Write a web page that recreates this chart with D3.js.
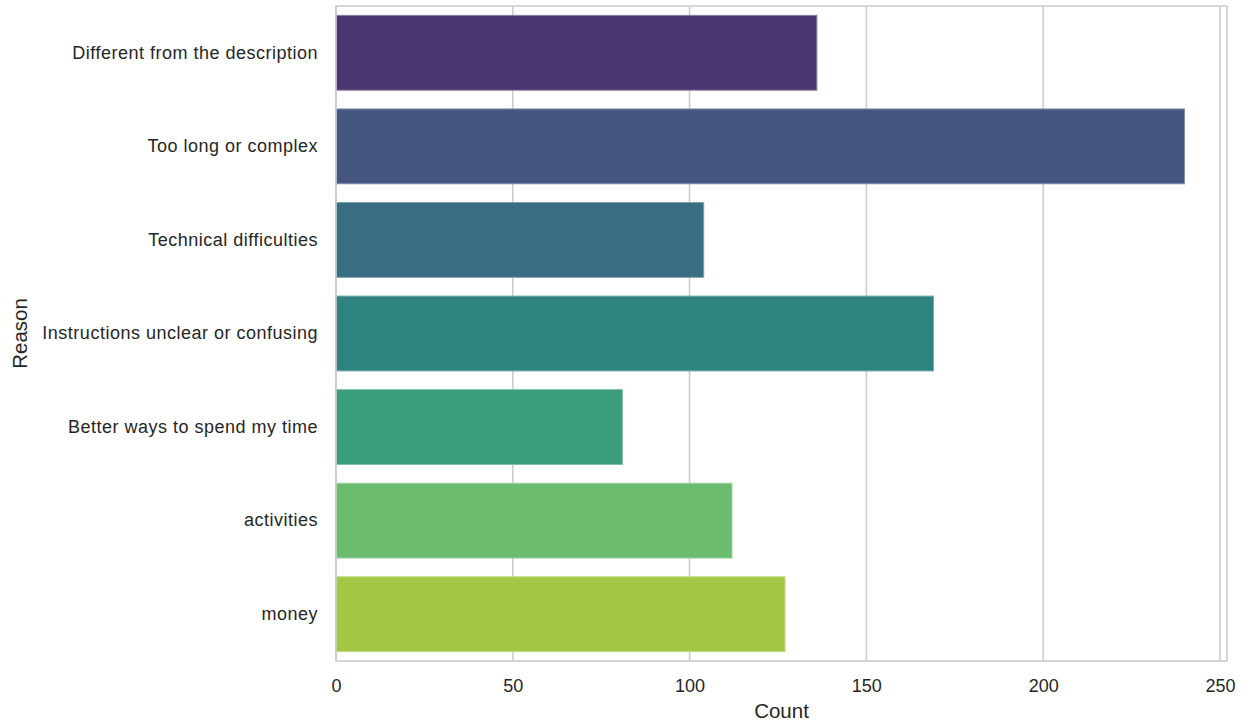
<!DOCTYPE html>
<html>
<head>
<meta charset="utf-8">
<script src="https://cdn.jsdelivr.net/npm/d3@7"></script>
<style>
  html, body { margin: 0; padding: 0; background: #fff; }
  svg { display: block; font-family: Arial, "Liberation Sans", Helvetica, sans-serif; }
</style>
</head>
<body>
<svg id="chart" width="1246" height="723"></svg>
<script>
// Reasons for dropping out, and how often each was given
const reasons = [
  "Different from the description",
  "Too long or complex",
  "Technical difficulties",
  "Instructions unclear or confusing",
  "Better ways to spend my time",
  "activities",
  "money"
];
const counts = [136, 240, 104, 169, 81, 112, 127];
const xTicks = [0, 50, 100, 150, 200, 250];

const W = 1246, H = 723;
const margin = { top: 6, right: 19, bottom: 62, left: 336 };
const innerW = W - margin.left - margin.right;
const innerH = H - margin.top - margin.bottom;

const svg = d3.select("#chart");
const g = svg.append("g").attr("transform", `translate(${margin.left},${margin.top})`);

const x = d3.scaleLinear().domain([0, d3.max(counts) * 1.05]).range([0, innerW]);
const y = d3.scaleBand().domain(reasons).range([0, innerH]).paddingInner(0.2).paddingOuter(0.1);

// viridis palette, sampled away from the ends and slightly desaturated
const colors = reasons.map((_, i) => {
  const c = d3.hsl(d3.interpolateViridis((i + 1) / (reasons.length + 1)));
  c.s *= 0.75;
  return c.formatHex();
});

// vertical grid
g.append("g")
  .selectAll("line")
  .data(xTicks)
  .join("line")
  .attr("x1", d => x(d)).attr("x2", d => x(d))
  .attr("y1", 0).attr("y2", innerH)
  .attr("stroke", "#cccccc")
  .attr("stroke-width", 1.6);

// bars
g.append("g")
  .selectAll("rect")
  .data(reasons)
  .join("rect")
  .attr("x", x(0))
  .attr("y", d => y(d))
  .attr("width", (d, i) => x(counts[i]) - x(0))
  .attr("height", y.bandwidth())
  .attr("fill", (d, i) => colors[i])
  .attr("stroke", (d, i) => d3.interpolateRgb(colors[i], "#ffffff")(0.35))
  .attr("stroke-width", 1);

// frame
g.append("rect")
  .attr("x", 0).attr("y", 0)
  .attr("width", innerW).attr("height", innerH)
  .attr("fill", "none")
  .attr("stroke", "#cccccc")
  .attr("stroke-width", 1.6);

// x axis
const xAxis = g.append("g")
  .attr("transform", `translate(0,${innerH})`)
  .call(d3.axisBottom(x).tickValues(xTicks).tickSize(0).tickPadding(18));
xAxis.select(".domain").remove();
xAxis.selectAll("text")
  .attr("fill", "#262626")
  .style("font-size", "18px");

// y axis
const yAxis = g.append("g")
  .call(d3.axisLeft(y).tickSize(0).tickPadding(18));
yAxis.select(".domain").remove();
yAxis.selectAll("text")
  .attr("fill", "#262626")
  .style("font-size", "18px")
  .style("letter-spacing", "0.5px");

// axis titles
svg.append("text")
  .attr("x", margin.left + innerW / 2)
  .attr("y", 718)
  .attr("text-anchor", "middle")
  .attr("fill", "#262626")
  .style("font-size", "20.5px")
  .text("Count");

svg.append("text")
  .attr("transform", `translate(${27},${margin.top + innerH / 2}) rotate(-90)`)
  .attr("text-anchor", "middle")
  .attr("fill", "#262626")
  .style("font-size", "20.5px")
  .text("Reason");
</script>
</body>
</html>
